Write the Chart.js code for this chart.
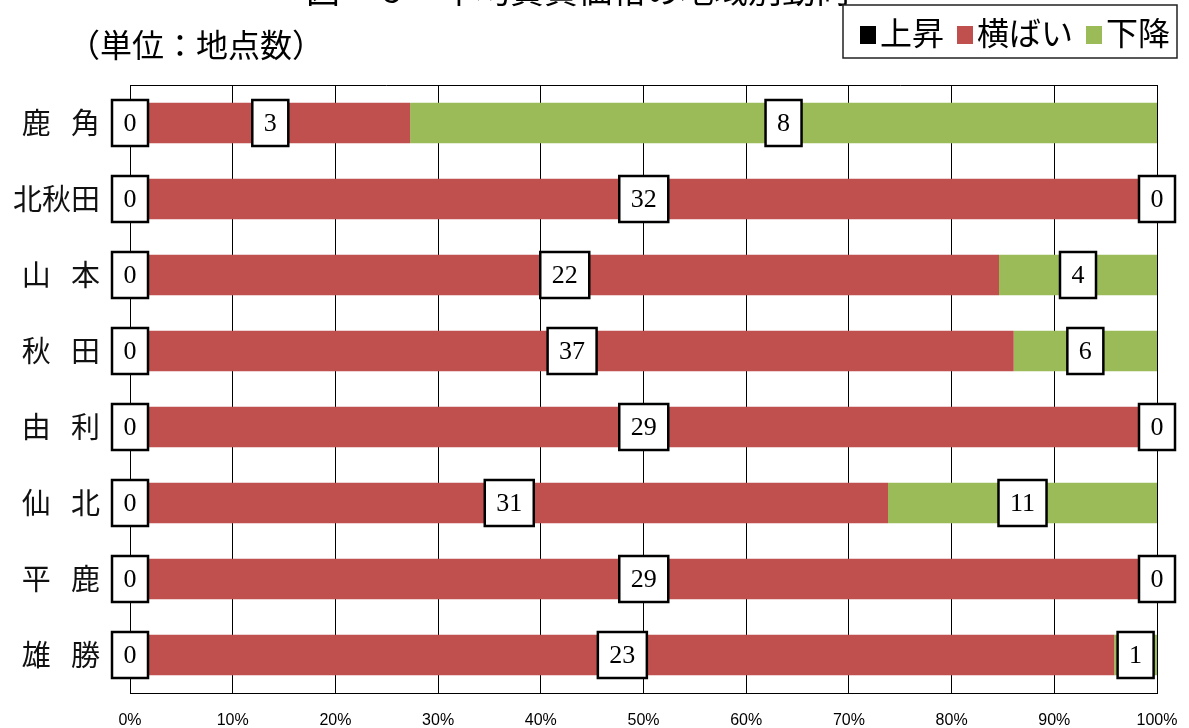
<!DOCTYPE html>
<html>
<head>
<meta charset="utf-8">
<script src="https://cdn.jsdelivr.net/npm/chart.js@4/dist/chart.umd.min.js"></script>
<style>
  html, body { margin: 0; padding: 0; background: #fff; }
  #wrap { width: 1189px; height: 728px; }
</style>
</head>
<body>
<div id="wrap"><canvas id="areaChart"></canvas></div>
<script>
// 地域
const regions = ['鹿角', '北秋田', '山本', '秋田', '由利', '仙北', '平鹿', '雄勝'];
// 地点数
const rising = [0, 0, 0, 0, 0, 0, 0, 0];
const flat = [3, 32, 22, 37, 29, 31, 29, 23];
const falling = [8, 0, 4, 6, 0, 11, 0, 1];
const seriesNames = ['上昇', '横ばい', '下降'];
const seriesColors = ['#000000', '#C0504D', '#9BBB59'];
const xTicks = [0, 10, 20, 30, 40, 50, 60, 70, 80, 90, 100];

const counts = [rising, flat, falling];
const totals = regions.map((r, i) => rising[i] + flat[i] + falling[i]);
const pct = arr => arr.map((v, i) => v / totals[i] * 100);

// labels in white boxes on each segment
const boxLabels = {
    id: 'boxLabels',
    afterDatasetsDraw(chart) {
        const ctx = chart.ctx;
        ctx.save();
        ctx.font = '26px "Liberation Serif", "DejaVu Serif", serif';
        ctx.textAlign = 'center';
        ctx.textBaseline = 'middle';
        chart.data.datasets.forEach((ds, i) => {
            const meta = chart.getDatasetMeta(i);
            meta.data.forEach((bar, j) => {
                const txt = String(counts[i][j]);
                const cx = (bar.x + bar.base) / 2;
                const cy = bar.y;
                const w = ctx.measureText(txt).width + 23;
                const h = 46;
                ctx.fillStyle = '#fff';
                ctx.fillRect(cx - w / 2, cy - h / 2, w, h);
                ctx.lineWidth = 2.5;
                ctx.strokeStyle = '#000';
                ctx.strokeRect(cx - w / 2, cy - h / 2, w, h);
                ctx.fillStyle = '#000';
                ctx.fillText(txt, cx, cy + 1);
            });
        });
        ctx.restore();
    }
};

// top border, title, unit, legend box
const frame = {
    id: 'frame',
    beforeDatasetsDraw(chart) {
        const {ctx, chartArea: a} = chart;
        ctx.save();
        ctx.strokeStyle = '#000';
        ctx.lineWidth = 1;
        ctx.beginPath();
        ctx.moveTo(a.left, a.top + 0.5);
        ctx.lineTo(a.right, a.top + 0.5);
        ctx.stroke();
        ctx.restore();
    },
    afterDraw(chart) {
        const ctx = chart.ctx;
        ctx.save();
        ctx.fillStyle = '#000';
        ctx.font = '34px "Noto Sans CJK JP", sans-serif';
        ctx.textBaseline = 'bottom';
        ctx.textAlign = 'center';
        ctx.fillText('図－６　平均賃貸価格の地域別動向', 578, 7);
        ctx.textAlign = 'left';
        ctx.textBaseline = 'alphabetic';
        ctx.font = '32px "Noto Sans CJK JP", sans-serif';
        ctx.fillText('（単位：地点数）', 68, 57);

        // legend
        ctx.fillStyle = '#fff';
        ctx.fillRect(843, 5, 334, 53);
        ctx.strokeStyle = '#222';
        ctx.lineWidth = 1.5;
        ctx.strokeRect(843, 5, 334, 53);
        ctx.font = '32px "Noto Sans CJK JP", sans-serif';
        let x = 860;
        seriesNames.forEach((name, i) => {
            ctx.fillStyle = seriesColors[i];
            ctx.fillRect(x, 26, 16, 18);
            x += 20;
            ctx.fillStyle = '#000';
            ctx.fillText(name, x, 45);
            x += ctx.measureText(name).width + 13;
        });
        ctx.restore();
    }
};

new Chart(document.getElementById('areaChart'), {
    type: 'bar',
    data: {
        labels: regions,
        datasets: counts.map((arr, i) => ({
            label: seriesNames[i],
            data: pct(arr),
            backgroundColor: seriesColors[i],
            borderWidth: 0,
            barPercentage: 0.53,
            categoryPercentage: 1
        }))
    },
    options: {
        indexAxis: 'y',
        responsive: true,
        maintainAspectRatio: false,
        animation: false,
        layout: { padding: { top: 85, right: 32, bottom: 0, left: 0 } },
        plugins: {
            legend: { display: false },
            tooltip: { enabled: false }
        },
        scales: {
            x: {
                stacked: true,
                min: 0,
                max: 100,
                afterBuildTicks: s => { s.ticks = xTicks.map(v => ({ value: v })); },
                afterFit: s => {
                    s.height = 35;
                    s.paddingLeft = 0;
                    s.paddingRight = 0;
                },
                ticks: {
                    callback: v => v + '%',
                    color: '#000',
                    padding: 18,
                    maxRotation: 0,
                    font: { family: '"Liberation Sans Narrow", "Liberation Sans", sans-serif', size: 16 }
                },
                grid: { color: '#000', lineWidth: 1, drawTicks: false },
                border: { color: '#000', width: 1 }
            },
            y: {
                stacked: true,
                afterFit: s => {
                    s.width = 130;
                    s.paddingTop = 0;
                    s.paddingBottom = 0;
                },
                ticks: {
                    callback: function(v) {
                        const name = this.getLabelForValue(v);
                        return name.length === 2 ? name[0] + '\u2002\u2009' + name[1] : name;
                    },
                    color: '#111',
                    padding: 30,
                    font: { family: '"Noto Sans CJK JP", sans-serif', size: 29 }
                },
                grid: { display: false, drawTicks: false },
                border: { color: '#000', width: 1 }
            }
        }
    },
    plugins: [frame, boxLabels]
});
</script>
</body>
</html>
